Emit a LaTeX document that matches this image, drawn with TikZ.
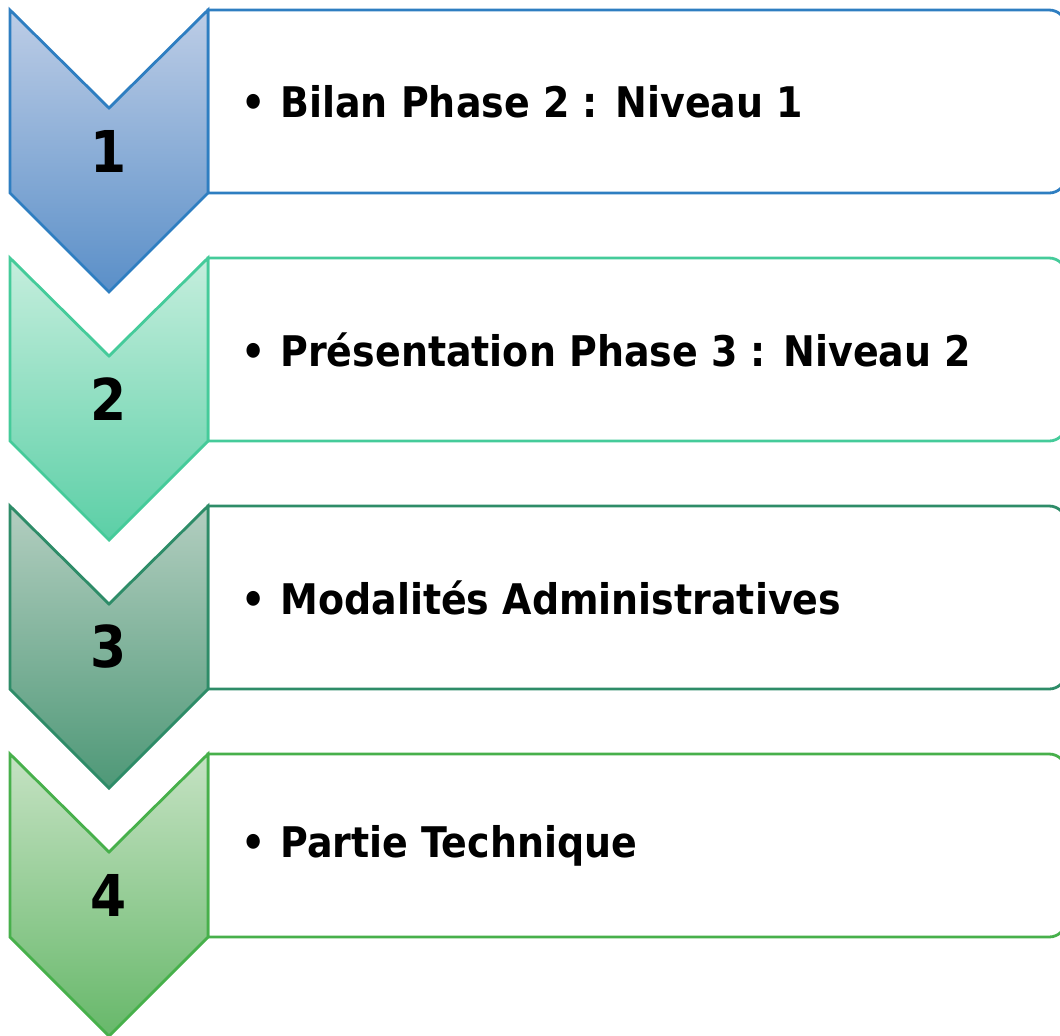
\documentclass[tikz,border=0pt]{standalone}
\usepackage{fontspec}
\setmainfont{DejaVu Sans Condensed}

\definecolor{lineblu}{HTML}{2E7EC1}
\definecolor{topblu}{HTML}{BDCDE6}
\definecolor{botblu}{HTML}{5A8FC8}
\definecolor{linemint}{HTML}{45CB9A}
\definecolor{topmint}{HTML}{C5EEDD}
\definecolor{botmint}{HTML}{5BCFA6}
\definecolor{linesea}{HTML}{2E8C68}
\definecolor{topsea}{HTML}{B3CEC0}
\definecolor{botsea}{HTML}{4E9877}
\definecolor{linegrn}{HTML}{47B04B}
\definecolor{topgrn}{HTML}{C5E2C3}
\definecolor{botgrn}{HTML}{67B86A}

\tikzset{
  stepnum/.style={font=\fontsize{41}{41}\selectfont\bfseries, inner sep=0pt},
  steptext/.style={anchor=west, font=\fontsize{30}{30}\selectfont\bfseries, inner sep=0pt},
}

\begin{document}
\begin{tikzpicture}[x=0.025cm, y=-0.025cm, line width=2pt]
  \useasboundingbox (0,0) rectangle (1060,1035);

  \foreach \n/\c/\txt in {1/blu/{Bilan Phase 2 : Niveau 1},
                          2/mint/{Présentation Phase 3 : Niveau 2},
                          3/sea/{Modalités Administratives},
                          4/grn/{Partie Technique}} {
    \pgfmathsetmacro{\t}{10+(\n-1)*248}

    % box, rounded on the right only
    \draw[line\c, fill=white]
      (208,\t) [rounded corners=12] -- (1066,\t) -- (1066,\t+183)
      [sharp corners] -- (208,\t+183) -- cycle;

    % chevron
    \draw[line\c, top color=top\c, bottom color=bot\c]
      (10,\t) -- (109,\t+98) -- (208,\t) -- (208,\t+183)
      -- (109,\t+282) -- (10,\t+183) -- cycle;

    \node[stepnum] (num\n) at (109,\t+141) {\n};
    \node[steptext] (lbl\n) at (240,\t+92) {\textbullet\hspace{0.35em}\txt};
  }

\end{tikzpicture}
\end{document}
